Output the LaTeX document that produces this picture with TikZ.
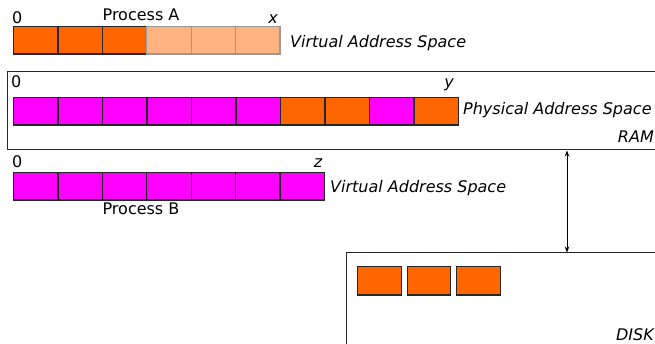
\documentclass[tikz,border=0pt]{standalone}
\usepackage{fontspec}
\setmainfont{DejaVu Sans}
\usetikzlibrary{arrows.meta}
\definecolor{orng}{HTML}{FF6600}
\definecolor{lorng}{HTML}{FFB380}
\definecolor{mag}{HTML}{FF00FF}
\begin{document}
\begin{tikzpicture}[x=1pt,y=-1pt,
  cell/.style={draw=black!85,line width=1.2pt,inner sep=0pt,minimum width=44.4pt,minimum height=27.5pt,anchor=north west},
  dcell/.style={draw=black!85,line width=1.2pt,inner sep=0pt,minimum width=43.6pt,minimum height=28.3pt,anchor=north west},
  lcell/.style={cell,draw=black!40},
  lab/.style={inner sep=0pt,anchor=base,font=\fontsize{16}{19}\selectfont},
  ilab/.style={lab,font=\fontsize{16}{19}\selectfont\itshape},
  frame/.style={draw=black!85,line width=1pt}]
\useasboundingbox (0,0) rectangle (655,344);
\clip (0,0) rectangle (655,344);
% Process A
\node[lab,anchor=base west] (a0) at (12,24) {0};
\node[lab] (pa) at (141,21) {Process A};
\node[ilab] (ax) at (273,24) {x};
\foreach \i/\c in {0/orng,1/orng,2/orng} \node[cell,fill=\c] (a\i c) at (13+44.4*\i,26) {};
\foreach \i in {3,4,5} \node[lcell,fill=lorng] (a\i c) at (13+44.4*\i,26) {};
\node[ilab,anchor=base west] (ava) at (290,48) {Virtual Address Space};
% RAM
\node[frame,inner sep=0pt,minimum width=700pt,minimum height=78.5pt,anchor=north west] (ram) at (7,71) {};
\node[lab,anchor=base west] (r0) at (11,88) {0};
\node[ilab] (ry) at (449,88) {y};
\foreach \i/\c in {0/mag,1/mag,2/mag,3/mag,4/mag,5/mag,6/orng,7/orng,8/mag,9/orng}
  \node[cell,fill=\c] (r\i c) at (13+44.5*\i,97) {};
\node[ilab,anchor=base west] (pas) at (463,115) {Physical Address Space};
\node[ilab,anchor=base east] (ramlab) at (654,143) {RAM};
% Process B
\node[lab,anchor=base west] (b0) at (12,168) {0};
\node[ilab] (bz) at (318,168) {z};
\foreach \i in {0,...,6} \node[cell,fill=mag] (b\i c) at (13+44.4*\i,172) {};
\node[ilab,anchor=base west] (bva) at (330,193) {Virtual Address Space};
\node[lab] (pb) at (141,215) {Process B};
% DISK
\node[frame,inner sep=0pt,minimum width=400pt,minimum height=200pt,anchor=north west] (disk) at (346,252.5) {};
\node[dcell,fill=orng] (d0) at (357,266) {};
\node[dcell,fill=orng] (d1) at (406.5,266) {};
\node[dcell,fill=orng] (d2) at (456,266) {};
\node[ilab,anchor=base east] (disklab) at (654,340) {DISK};
% arrow
\coordinate (ax1) at (567,0);
\draw[line width=0.8pt,{Stealth[length=6pt,width=4.5pt]}-{Stealth[length=6pt,width=4.5pt]}] (ram.south -| ax1) -- (disk.north -| ax1);
\end{tikzpicture}
\end{document}
